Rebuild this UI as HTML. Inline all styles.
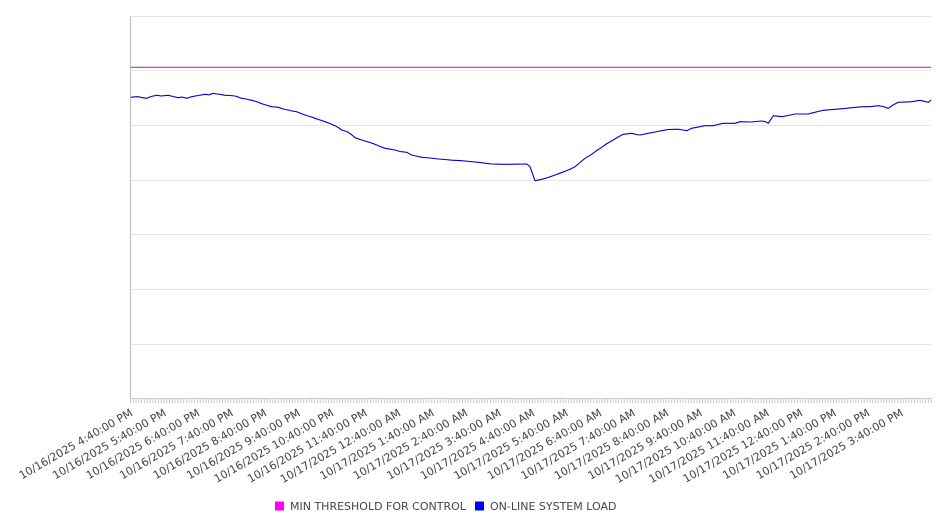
<!DOCTYPE html>
<html>
<head>
<meta charset="utf-8">
<style>
  html,body{margin:0;padding:0;background:#fff;}
  svg{display:block;}
  text{font-family:"DejaVu Sans","Liberation Sans",sans-serif;font-size:11px;fill:#444;}
</style>
</head>
<body>
<svg width="946" height="526" viewBox="0 0 946 526" xmlns="http://www.w3.org/2000/svg">
  <defs>
    <pattern id="ticks" x="130" y="398" width="2.79" height="5" patternUnits="userSpaceOnUse">
      <rect x="0" y="0" width="1" height="5" fill="#c8c8c8"/>
    </pattern>
  </defs>
  <!-- gridlines -->
  <g stroke="#e6e6e6" stroke-width="1" shape-rendering="crispEdges">
    <line x1="130" y1="16.5" x2="931" y2="16.5"/>
    <line x1="130" y1="70.5" x2="931" y2="70.5"/>
    <line x1="130" y1="125.5" x2="931" y2="125.5"/>
    <line x1="130" y1="180.5" x2="931" y2="180.5"/>
    <line x1="130" y1="234.5" x2="931" y2="234.5"/>
    <line x1="130" y1="289.5" x2="931" y2="289.5"/>
    <line x1="130" y1="344.5" x2="931" y2="344.5"/>
  </g>
  <!-- axes -->
  <rect x="130" y="398" width="802" height="5" fill="url(#ticks)"/>
  <line x1="130" y1="398.5" x2="931" y2="398.5" stroke="#cccccc" stroke-width="1" shape-rendering="crispEdges"/>
  <line x1="130.5" y1="16" x2="130.5" y2="399" stroke="#bbbbbb" stroke-width="1" shape-rendering="crispEdges"/>

  <!-- threshold -->
  <line x1="131" y1="67.3" x2="931" y2="67.3" stroke="#d020d0" stroke-width="1.1"/>

  <!-- load series -->
  <polyline fill="none" stroke="#0000cc" stroke-width="1.1" stroke-linejoin="round"
    points="131,97.3 134,96.9 138.3,96.7 142,97.6 146.7,98.3 151,96.5 156.7,95.3 161.7,96 165,95.6 168.3,95.3 173,96.5 178.3,97.7 182,97 186.7,98.3 191.7,96.7 198,95.5 205,94.3 209,94.8 213.3,93.3 217,94 220,94.3 225,95.3 230,95.5 235,96 238,97 241.7,98.3 246,99 251.7,100.3 256,101.5 261.7,103.7 266,105 271.7,106.7 278.3,107.3 283,109 288.3,110 292,111 296.7,111.7 301,113.5 305,115 310,116.5 315,118.3 320,120 325,121.7 330,123.5 335,125.7 339,128 341.7,130 345,131 348.3,132.3 352,135 355,137.7 360,139.5 365,141 370,142.5 375,144.3 380,146.5 385,148.3 390,149.2 395,150 400,151.5 406.7,152.3 411.7,155 416,156 421.7,157.3 430,158 438.3,159 445,159.5 452,160.2 461.7,160.7 470,161.5 478.3,162.3 485,163.2 491.7,164 498,164.2 505,164.3 515,164.2 526.7,164 530,166.7 535,180.7 541.7,179.3 548,177.5 555,175 560,173.2 565,171.3 570,169.2 575,166.7 580,162.5 585,158.3 591.7,154.3 596,151 601.7,147.3 607,143.5 613.3,140 618,137 623.3,134.3 631.7,133.3 636,134.5 640,135 648.3,133.3 655,132 661.7,130.7 668,129.5 675,129.3 678.3,129.3 683,130 686.7,130.7 691.7,128.3 696.7,127.3 705,125.7 713.3,125.7 718,124.5 723.3,123.3 735,123.3 740,121.7 751.7,122 756,121.5 761.7,121 765,121.5 768.3,123.3 773.3,115.7 781.7,116.7 788,115.5 795,114 808.3,114 813.3,112.7 818,111.5 823.3,110.3 835,109.3 846.7,108.3 851.7,107.7 863.3,106.7 870,106.7 878.3,105.7 883,106.5 888.3,108.3 893,105 898.3,102.3 911.7,101.7 920,100.3 928.3,102.3 931,100"/>

  <!-- x labels -->
  <g text-anchor="end">
    <text transform="translate(133.5,415) rotate(-30)">10/16/2025 4:40:00 PM</text>
    <text transform="translate(167,415) rotate(-30)">10/16/2025 5:40:00 PM</text>
    <text transform="translate(200.5,415) rotate(-30)">10/16/2025 6:40:00 PM</text>
    <text transform="translate(234,415) rotate(-30)">10/16/2025 7:40:00 PM</text>
    <text transform="translate(267.5,415) rotate(-30)">10/16/2025 8:40:00 PM</text>
    <text transform="translate(301,415) rotate(-30)">10/16/2025 9:40:00 PM</text>
    <text transform="translate(334.5,415) rotate(-30)">10/16/2025 10:40:00 PM</text>
    <text transform="translate(368,415) rotate(-30)">10/16/2025 11:40:00 PM</text>
    <text transform="translate(401.5,415) rotate(-30)">10/17/2025 12:40:00 AM</text>
    <text transform="translate(435,415) rotate(-30)">10/17/2025 1:40:00 AM</text>
    <text transform="translate(468.5,415) rotate(-30)">10/17/2025 2:40:00 AM</text>
    <text transform="translate(502,415) rotate(-30)">10/17/2025 3:40:00 AM</text>
    <text transform="translate(535.5,415) rotate(-30)">10/17/2025 4:40:00 AM</text>
    <text transform="translate(569,415) rotate(-30)">10/17/2025 5:40:00 AM</text>
    <text transform="translate(602.5,415) rotate(-30)">10/17/2025 6:40:00 AM</text>
    <text transform="translate(636,415) rotate(-30)">10/17/2025 7:40:00 AM</text>
    <text transform="translate(669.5,415) rotate(-30)">10/17/2025 8:40:00 AM</text>
    <text transform="translate(703,415) rotate(-30)">10/17/2025 9:40:00 AM</text>
    <text transform="translate(736.5,415) rotate(-30)">10/17/2025 10:40:00 AM</text>
    <text transform="translate(770,415) rotate(-30)">10/17/2025 11:40:00 AM</text>
    <text transform="translate(803.5,415) rotate(-30)">10/17/2025 12:40:00 PM</text>
    <text transform="translate(837,415) rotate(-30)">10/17/2025 1:40:00 PM</text>
    <text transform="translate(870.5,415) rotate(-30)">10/17/2025 2:40:00 PM</text>
    <text transform="translate(904,415) rotate(-30)">10/17/2025 3:40:00 PM</text>
  </g>

  <!-- legend -->
  <rect x="275" y="501.5" width="9" height="9" fill="#ff00ff"/>
  <text x="290" y="510">MIN THRESHOLD FOR CONTROL</text>
  <rect x="475" y="501.5" width="9" height="9" fill="#0000ff"/>
  <text x="490" y="510">ON-LINE SYSTEM LOAD</text>
</svg>
</body>
</html>
